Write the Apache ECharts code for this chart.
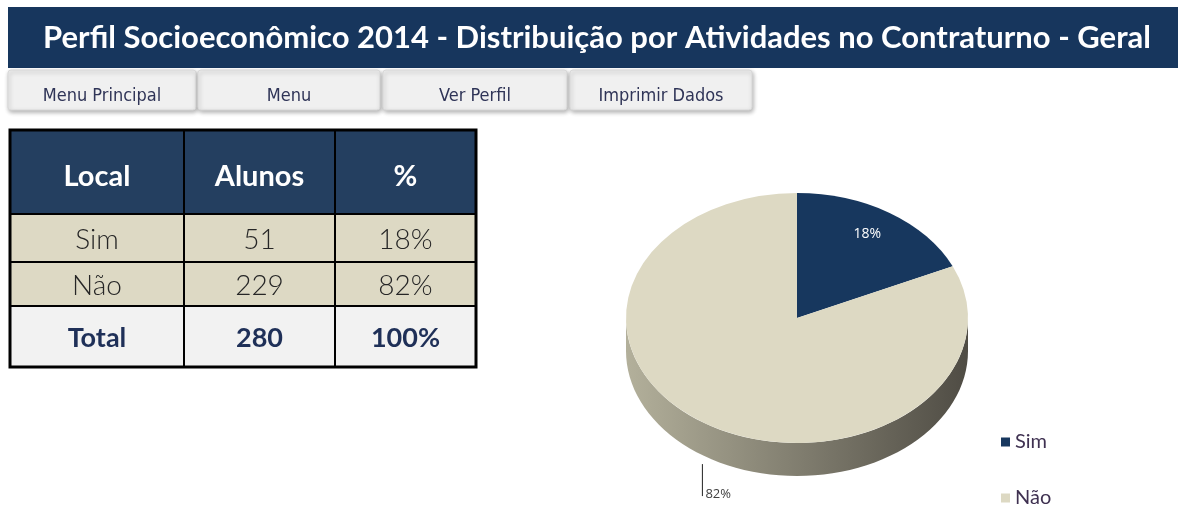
<!DOCTYPE html>
<html>
<head>
<meta charset="utf-8">
<script src="https://cdn.jsdelivr.net/npm/echarts@6/dist/echarts.min.js"></script>
<style>
    html, body { margin: 0; padding: 0; background: #fff; }
    #chart { width: 1178px; height: 506px; }
</style>
</head>
<body>
<div id="chart"></div>
<script>
const titulo = 'Perfil Socioeconômico 2014 - Distribuição por Atividades no Contraturno - Geral'
const botoes = ['Menu Principal', 'Menu', 'Ver Perfil', 'Imprimir Dados']
const cabecalho = ['Local', 'Alunos', '%']
const locais = ['Sim', 'Não']
const alunos = [51, 229]
const percentuais = ['18%', '82%']
const rotuloTotal = 'Total'
const percentualTotal = '100%'

const total = alunos.reduce((a, b) => a + b, 0)

// layout
const AZUL = '#17375e'
const BEGE = '#ddd9c3'
const cores = [AZUL, BEGE]
const lados = [
    ['#2c4a70', '#102640'],
    ['#b3b09b', '#4f4c44']
]
const botaoX = [[8, 196], [198, 380], [383, 567], [570, 752]]
const colX = [10, 184, 335, 476]
const linhaY = [130, 214, 262, 306, 367]
const CX = 797, CY = 318, RX = 171, RY = 125, PROF = 33

const fonte = 'Lato, "DejaVu Sans", sans-serif'

const graphic = []

// faixa do titulo
graphic.push({
    type: 'rect', shape: { x: 8, y: 7, width: 1170, height: 61 },
    style: { fill: '#17365d' }
})
graphic.push({
    type: 'text', x: 597, y: 38,
    style: {
        text: titulo, fill: '#fff', align: 'center', verticalAlign: 'middle',
        font: 'bold 31px ' + fonte
    }
})

// botoes
botoes.forEach((b, i) => {
    const [x1, x2] = botaoX[i]
    graphic.push({
        type: 'rect', shape: { x: x1, y: 70, width: x2 - x1, height: 40, r: 3 },
        style: {
            fill: '#f0f0f0', stroke: '#d8d8d8', lineWidth: 1,
            shadowBlur: 4, shadowOffsetX: 1, shadowOffsetY: 2, shadowColor: 'rgba(0,0,0,0.3)'
        }
    })
    graphic.push({
        type: 'text', x: (x1 + x2) / 2, y: 96,
        style: {
            text: b, fill: '#2f3457', align: 'center', verticalAlign: 'middle',
            font: '18px "Liberation Sans Narrow", "DejaVu Sans Condensed", sans-serif'
        }
    })
})

// tabela
const linhas = [cabecalho]
locais.forEach((l, i) => linhas.push([l, String(alunos[i]), percentuais[i]]))
linhas.push([rotuloTotal, String(total), percentualTotal])

const fundos = ['#243f60', '#ddd9c4', '#ddd9c4', '#f2f2f2']
linhas.forEach((linha, r) => {
    const y1 = linhaY[r], y2 = linhaY[r + 1]
    graphic.push({
        type: 'rect', shape: { x: colX[0], y: y1, width: colX[3] - colX[0], height: y2 - y1 },
        style: { fill: fundos[r] }
    })
    linha.forEach((txt, c) => {
        let fill = '#262626', font = '300 28px ' + fonte
        if (r === 0) { fill = '#fff'; font = 'bold 29px ' + fonte }
        if (r === linhas.length - 1) { fill = '#1f3058'; font = 'bold 27px ' + fonte }
        graphic.push({
            type: 'text', x: (colX[c] + colX[c + 1]) / 2, y: (y1 + y2) / 2 + (r === 0 ? 5 : 2),
            style: { text: txt, fill, font, align: 'center', verticalAlign: 'middle' }
        })
    })
})
// grade da tabela
colX.slice(1, 3).forEach(x => graphic.push({
    type: 'line', shape: { x1: x, y1: linhaY[0], x2: x, y2: linhaY[4] },
    style: { stroke: '#000', lineWidth: 2 }
}))
linhaY.slice(1, 4).forEach(y => graphic.push({
    type: 'line', shape: { x1: colX[0], y1: y, x2: colX[3], y2: y },
    style: { stroke: '#000', lineWidth: 2 }
}))
graphic.push({
    type: 'rect', shape: { x: colX[0], y: linhaY[0], width: colX[3] - colX[0], height: linhaY[4] - linhaY[0] },
    style: { fill: 'none', stroke: '#000', lineWidth: 3 }
})

// fatia de pizza 3D (elipse)
function fatia(i) {
    return function (params, api) {
        const antes = alunos.slice(0, i).reduce((a, b) => a + b, 0)
        const a1 = -Math.PI / 2 + antes / total * 2 * Math.PI
        const a2 = a1 + api.value(0) / total * 2 * Math.PI
        const children = []

        // lateral visivel (metade da frente)
        const b1 = Math.max(a1, 0), b2 = Math.min(a2, Math.PI)
        if (b2 > b1) {
            const pts = []
            const n = 60
            for (let k = 0; k <= n; k++) {
                const t = b1 + (b2 - b1) * k / n
                pts.push([CX + RX * Math.cos(t), CY + RY * Math.sin(t)])
            }
            for (let k = n; k >= 0; k--) {
                const t = b1 + (b2 - b1) * k / n
                pts.push([CX + RX * Math.cos(t), CY + RY * Math.sin(t) + PROF])
            }
            children.push({
                type: 'polygon', shape: { points: pts }, z2: 1,
                style: {
                    fill: {
                        type: 'linear', x: CX - RX, y: 0, x2: CX + RX, y2: 0, global: true,
                        colorStops: [{ offset: 0, color: lados[i][0] }, { offset: 1, color: lados[i][1] }]
                    }
                }
            })
        }

        // topo
        children.push({
            type: 'sector', z2: 5,
            shape: { cx: CX, cy: CY, r: RX, r0: 0, startAngle: a1, endAngle: a2, clockwise: true },
            scaleY: RY / RX, originX: CX, originY: CY,
            style: { fill: cores[i] }
        })

        // rotulo
        const m = (a1 + a2) / 2
        const pct = Math.round(api.value(0) / total * 100) + '%'
        if (Math.sin(m) > 0.3) {
            const x = CX + RX * Math.cos(m), y = CY + RY * Math.sin(m) + PROF
            children.push({
                type: 'line', z2: 6, shape: { x1: x - 2, y1: y + 8, x2: x - 2, y2: y + 40 },
                style: { stroke: '#222', lineWidth: 1 }
            })
            children.push({
                type: 'text', z2: 6, x: x + 1, y: y + 38,
                style: {
                    text: pct, fill: '#404040', align: 'left', verticalAlign: 'middle',
                    font: '13px "Open Sans", sans-serif'
                }
            })
        } else {
            children.push({
                type: 'text', z2: 6, x: CX + RX * 0.76 * Math.cos(m), y: CY + RY * 0.8 * Math.sin(m),
                style: {
                    text: pct, fill: '#fff', align: 'center', verticalAlign: 'middle',
                    font: '14px "Open Sans", sans-serif'
                }
            })
        }
        return { type: 'group', children }
    }
}

const option = {
    animation: false,
    backgroundColor: '#fff',
    graphic,
    legend: {
        orient: 'vertical', left: 996, top: 427, height: 120,
        itemWidth: 9, itemHeight: 9, itemGap: 36, icon: 'rect',
        textStyle: { fontFamily: fonte, fontSize: 20, color: '#3f3151' },
        data: locais
    },
    series: locais.map((l, i) => ({
        name: l,
        type: 'custom',
        coordinateSystem: 'none',
        itemStyle: { color: cores[i] },
        renderItem: fatia(i),
        data: [alunos[i]]
    }))
}

const myChart = echarts.init(document.getElementById('chart'))
myChart.setOption(option)
</script>
</body>
</html>
